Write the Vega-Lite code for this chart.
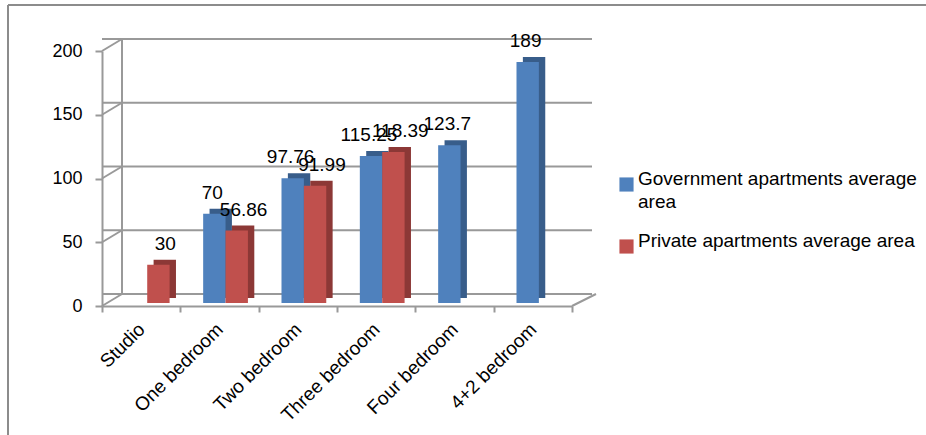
{
  "$schema": "https://vega.github.io/schema/vega-lite/v6.json",
  "width": 470,
  "height": 255,
  "autosize": {"type": "none"},
  "padding": {"left": 102, "top": 51, "right": 354, "bottom": 129},
  "background": "white",
  "config": {
    "font": "Liberation Sans",
    "view": {"stroke": null},
    "style": {"guide-label": {"lineHeight": 23}}
  },
  "datasets": {
    "bars": [
      {"category": "Studio", "series": "Private apartments average area", "value": 30},
      {"category": "One bedroom", "series": "Government apartments average area", "value": 70},
      {"category": "One bedroom", "series": "Private apartments average area", "value": 56.86},
      {"category": "Two bedroom", "series": "Government apartments average area", "value": 97.76},
      {"category": "Two bedroom", "series": "Private apartments average area", "value": 91.99},
      {"category": "Three bedroom", "series": "Government apartments average area", "value": 115.25},
      {"category": "Three bedroom", "series": "Private apartments average area", "value": 118.39},
      {"category": "Four bedroom", "series": "Government apartments average area", "value": 123.7},
      {"category": "4+2 bedroom", "series": "Government apartments average area", "value": 189}
    ],
    "grid": [{"v": 0}, {"v": 50}, {"v": 100}, {"v": 150}, {"v": 200}]
  },
  "resolve": {"scale": {"x": "independent", "xOffset": "independent"}, "axis": {"x": "independent"}},
  "layer": [
    {
      "data": {"name": "bars"},
      "mark": {"type": "bar", "opacity": 0},
      "encoding": {
        "x": {"field": "category", "type": "nominal",
          "sort": ["Studio", "One bedroom", "Two bedroom", "Three bedroom", "Four bedroom", "4+2 bedroom"],
          "scale": {"paddingInner": 0, "paddingOuter": 0},
          "axis": {"title": null, "labelAngle": -45, "labelAlign": "right", "labelBaseline": "middle", "labelPadding": 14,
            "tickSize": 6, "tickBand": "extent", "domainColor": "#999999", "domainWidth": 2, "tickColor": "#999999", "tickWidth": 2,
            "labelFontSize": 19, "labelColor": "#000000", "grid": false}},
        "xOffset": {"field": "series", "scale": {"paddingOuter": 0.75, "paddingInner": 0}},
        "y": {"field": "value", "type": "quantitative", "scale": {"domain": [0, 200]},
          "axis": {"title": null, "values": [0, 50, 100, 150, 200], "tickSize": 7, "labelPadding": 13,
            "domainColor": "#999999", "domainWidth": 2, "tickColor": "#999999", "tickWidth": 2,
            "labelFontSize": 18, "labelColor": "#000000", "grid": false}}
      }
    },
    {
      "data": {"values": [{"lo": 0, "hi": 200}]},
      "mark": {"type": "rule", "color": "#8c8c8c", "strokeWidth": 2, "xOffset": -94, "x2Offset": 354, "yOffset": -46, "y2Offset": -46},
      "encoding": {
        "x": {"datum": 0, "type": "quantitative", "scale": {"domain": [0, 1]}, "axis": null},
        "x2": {"datum": 1},
        "y": {"field": "hi", "type": "quantitative"},
        "y2": {"field": "hi"}
      }
    },
    {
      "data": {"values": [{"lo": 0, "hi": 200}]},
      "mark": {"type": "rule", "color": "#8c8c8c", "strokeWidth": 2, "xOffset": -94, "x2Offset": -94, "yOffset": 135, "y2Offset": -46},
      "encoding": {
        "x": {"datum": 0, "type": "quantitative", "scale": {"domain": [0, 1]}, "axis": null},
        "x2": {"datum": 0},
        "y": {"field": "lo", "type": "quantitative"},
        "y2": {"field": "hi"}
      }
    },
    {
      "data": {"name": "grid"},
      "mark": {"type": "rule", "color": "#999999", "strokeWidth": 2, "xOffset": 20, "x2Offset": 24, "yOffset": -12},
      "encoding": {"y": {"field": "v", "type": "quantitative"}}
    },
    {
      "data": {"name": "grid"},
      "mark": {"type": "rule", "color": "#999999", "strokeWidth": 2, "x2Offset": 20, "y2Offset": -12},
      "encoding": {
        "x": {"datum": 0, "type": "quantitative", "scale": {"domain": [0, 1]}, "axis": null},
        "x2": {"datum": 0},
        "y": {"field": "v", "type": "quantitative"},
        "y2": {"field": "v"}
      }
    },
    {
      "data": {"values": [{"lo": 0, "hi": 200}]},
      "mark": {"type": "rule", "color": "#999999", "strokeWidth": 2, "xOffset": 20, "x2Offset": 20, "yOffset": -12, "y2Offset": -12},
      "encoding": {
        "x": {"datum": 0, "type": "quantitative", "scale": {"domain": [0, 1]}, "axis": null},
        "x2": {"datum": 0},
        "y": {"field": "lo", "type": "quantitative"},
        "y2": {"field": "hi"}
      }
    },
    {
      "data": {"values": [{"lo": 0}]},
      "mark": {"type": "rule", "color": "#999999", "strokeWidth": 2, "x2Offset": 24, "y2Offset": -12},
      "encoding": {
        "x": {"datum": 1, "type": "quantitative", "scale": {"domain": [0, 1]}, "axis": null},
        "x2": {"datum": 1},
        "y": {"field": "lo", "type": "quantitative"},
        "y2": {"field": "lo"}
      }
    },
    {
      "data": {"name": "bars"},
      "mark": {"type": "bar", "yOffset": -8, "y2Offset": -8},
      "encoding": {
        "x": {"field": "category", "type": "nominal",
          "sort": ["Studio", "One bedroom", "Two bedroom", "Three bedroom", "Four bedroom", "4+2 bedroom"],
          "scale": {"paddingInner": 0, "paddingOuter": 0}, "axis": null},
        "xOffset": {"field": "series", "scale": {"paddingOuter": 0.75, "paddingInner": 0, "align": 0.87}},
        "y": {"field": "value", "type": "quantitative"},
        "fill": {"field": "series", "type": "nominal", "scale": {"range": ["#385D8A", "#8C3836"]}, "legend": null}
      }
    },
    {
      "data": {"name": "bars"},
      "mark": {"type": "bar", "yOffset": -3, "y2Offset": -3},
      "encoding": {
        "x": {"field": "category", "type": "nominal",
          "sort": ["Studio", "One bedroom", "Two bedroom", "Three bedroom", "Four bedroom", "4+2 bedroom"],
          "scale": {"paddingInner": 0, "paddingOuter": 0}, "axis": null},
        "xOffset": {"field": "series", "scale": {"paddingOuter": 0.75, "paddingInner": 0, "align": 0.68}},
        "y": {"field": "value", "type": "quantitative"},
        "color": {"field": "series", "type": "nominal", "scale": {"range": ["#4F81BD", "#C0504D"]},
          "legend": {"orient": "none", "legendX": 515, "legendY": 124, "title": null, "labelFontSize": 19, "labelColor": "#000000",
            "symbolType": "square", "symbolSize": 200, "symbolStrokeWidth": 0, "rowPadding": 19, "labelOffset": 2, "labelLimit": 400,
            "labelBaseline": "alphabetic",
            "labelExpr": "datum.label == 'Government apartments average area' ? ['Government apartments average', 'area'] : datum.label"}}
      }
    },
    {
      "data": {"name": "bars"},
      "mark": {"type": "text", "yOffset": -18, "baseline": "alphabetic", "fontSize": 19, "color": "#000000"},
      "encoding": {
        "x": {"field": "category", "type": "nominal",
          "sort": ["Studio", "One bedroom", "Two bedroom", "Three bedroom", "Four bedroom", "4+2 bedroom"],
          "scale": {"paddingInner": 0, "paddingOuter": 0}, "axis": null},
        "xOffset": {"field": "series", "scale": {"paddingOuter": 0.75, "paddingInner": 0, "align": 0.68}},
        "y": {"field": "value", "type": "quantitative"},
        "text": {"field": "value", "type": "quantitative"}
      }
    }
  ]
}
